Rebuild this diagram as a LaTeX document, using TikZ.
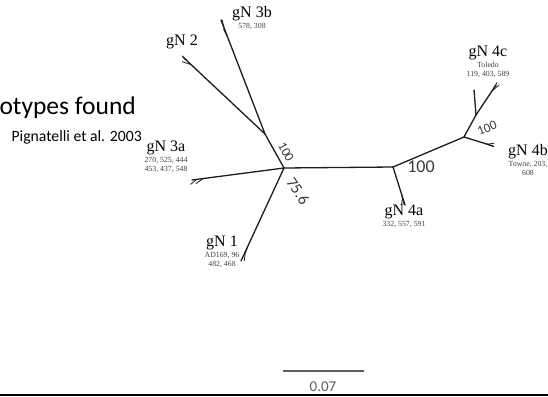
\documentclass[tikz,border=0pt]{standalone}
\usepackage{fontspec}
\setmainfont{Liberation Serif}
\newfontfamily\slidefont{Carlito}
\usetikzlibrary{positioning, calc}
\definecolor{branch}{HTML}{1C1C1C}
\definecolor{support}{HTML}{3A3A3A}
\definecolor{strain}{HTML}{404040}
\definecolor{scalegray}{HTML}{5E5E5E}

\begin{document}
\begin{tikzpicture}[
    x=1pt, y=-1pt,
    edge/.style={draw=branch, line width=1.3pt, line cap=round},
    leaf/.style={draw=branch, line width=0.8pt, line cap=round},
    clade/.style={font=\fontsize{16}{16}\selectfont, text=black, inner sep=0pt},
    strains/.style={font=\fontsize{7.8}{9}\selectfont, text=strain, inner sep=0pt, align=center},
    boot/.style={font=\slidefont\fontsize{13}{13}\selectfont, text=support, inner sep=0pt},
    title/.style={font=\slidefont\fontsize{25.5}{26}\selectfont, text=black, inner sep=0pt, anchor=east},
    cite/.style={font=\slidefont\fontsize{15.7}{16}\selectfont, text=black, inner sep=0pt, anchor=east},
]
\useasboundingbox (0,0) rectangle (548,396);

% Tree nodes
\coordinate (C) at (284,168);
\coordinate (J1) at (265,134);
\coordinate (N2) at (393,167);
\coordinate (N3) at (464,137);
\coordinate (N4) at (476,115);

% Tips
\coordinate (t2) at (183,57);
\coordinate (t3b) at (221,20);
\coordinate (t3a) at (192,180);
\coordinate (t1) at (241,261);
\coordinate (t4a) at (405,205);
\coordinate (t4b) at (493,146);
\coordinate (t4c) at (496,85);
\coordinate (s4c) at (474,90);

% Branches
\draw[edge] (C) -- (J1);
\draw[edge] (J1) -- (t2);
\draw[edge] (J1) -- (t3b);
\draw[edge] (C) -- (t3a);
\draw[edge] (C) -- (t1);
\draw[edge] (C) -- (N2);
\draw[edge] (N2) -- (t4a);
\draw[edge] (N2) -- (N3);
\draw[edge] (N3) -- (t4b);
\draw[edge] (N3) -- (N4);
\draw[edge] (N4) -- (s4c);
\draw[edge] (N4) -- (t4c);

% Short leaves near the tips
\draw[leaf] ($(C)!0.88!(t3a)$) -- ++(-7,5);
\draw[leaf] ($(C)!0.95!(t3a)$) -- ++(-6,5);
\draw[leaf] ($(J1)!0.9!(t2)$) -- ++(-9,-3);
\draw[leaf] ($(J1)!0.95!(t2)$) -- ++(-5,-5);
\draw[leaf] ($(J1)!0.85!(t3b)$) -- ++(-4,-8);
\draw[leaf] ($(J1)!0.93!(t3b)$) -- ++(-2,-8);
\draw[leaf] ($(C)!0.9!(t1)$) -- ++(-1,9);
\draw[leaf] ($(C)!0.85!(t1)$) -- ++(-2,6);
\draw[leaf] ($(N2)!0.7!(t4a)$) -- ++(2,10);
\draw[leaf] ($(N2)!0.8!(t4a)$) -- ++(-1,7);
\draw[leaf] ($(N3)!0.75!(t4b)$) -- ++(8,3);
\draw[leaf] ($(N3)!0.8!(t4b)$) -- ++(7,-1);
\draw[leaf] ($(N4)!0.8!(t4c)$) -- ++(7,-6);
\draw[leaf] ($(N4)!0.85!(t4c)$) -- ++(4,-7);

% Support values
\node[boot, rotate=-61] (b1) at (286,152) {100};
\node[boot, font=\slidefont\fontsize{16}{16}\selectfont, rotate=-56] (b2) at (298,191) {75.6};
\node[boot, font=\slidefont\fontsize{18}{18}\selectfont] (b3) at (421,167) {100};
\node[boot, rotate=22] (b4) at (487,128) {100};

% Clade labels
\node[clade] (g3b) at (252,14) {gN 3b};
\node[strains, below=2pt of g3b] (s3b) {578, 308};
\node[clade] (g2) at (182,42) {gN 2};
\node[clade] (g3a) at (166,148) {gN 3a};
\node[strains, below=2pt of g3a] (s3a) {270, 525, 444\\453, 437, 548};
\node[clade] (g1) at (222,243) {gN 1};
\node[strains, below=2pt of g1] (s1) {AD169, 96\\482, 468};
\node[clade] (g4a) at (404,212) {gN 4a};
\node[strains, below=2pt of g4a] (s4a) {332, 557, 591};
\node[clade] (g4c) at (488,53) {gN 4c};
\node[strains, below=2pt of g4c] (s4c) {Toledo\\119, 403, 589};
\node[clade] (g4b) at (528,152) {gN 4b};
\node[strains, below=2pt of g4b] (s4b) {Towne, 203,\\608};

% Slide text
\node[title] (head) at (136,108) {otypes found};
\node[cite] (ref) at (142,137) {Pignatelli et al. 2003};

% Scale bar
\coordinate (sbl) at (283,371);
\coordinate (sbr) at (364,371);
\draw[scalegray, line width=2pt] (sbl) -- (sbr);
\node[font=\slidefont\fontsize{15}{15}\selectfont, text=scalegray, inner sep=0pt] (sbtext) at (323,387) {0.07};

% Bottom rule
\coordinate (rl) at (0,395.2);
\coordinate (rr) at (548,395.2);
\draw[black, line width=1.6pt] (rl) -- (rr);
\end{tikzpicture}
\end{document}
